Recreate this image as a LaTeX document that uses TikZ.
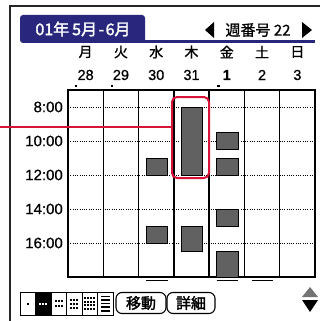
\documentclass[tikz,border=0pt]{standalone}
\usepackage{fontspec}
\setmainfont{Liberation Sans}
\newfontfamily\numf[FakeBold=0.7]{Liberation Sans}
\newfontfamily\jp{Noto Sans CJK JP}
\newfontfamily\jpm[FakeBold=1]{Noto Sans CJK JP}
\newfontfamily\jpb[FakeBold=2]{Noto Sans CJK JP}
\definecolor{tabblue}{RGB}{40,38,125}
\definecolor{hlred}{RGB}{215,20,55}
\newcommand\cw{35.286}
\newcommand\hy[1]{90+(#1-7)*17}
\newcommand\evbox[3]{\draw[eventbox] ({68+#1*\cw+7.5},{\hy{#2}}) rectangle ({68+#1*\cw+29},{\hy{#3}});}
\newcommand\ulbox[1]{\draw[line width=1.2pt] ({68+#1*\cw+7.5},280.5) -- ({68+#1*\cw+29},280.5);}
\begin{document}
\begin{tikzpicture}[x=1pt,y=-1pt,
  gridline/.style={line width=1.3pt,black},
  hourline/.style={line width=0.9pt,dash pattern=on 0.9pt off 1.4pt},
  eventbox/.style={draw=black,line width=1pt,fill=black!62},
  daylabel/.style={font=\jpm\fontsize{14}{14}\selectfont,inner sep=0},
  datelabel/.style={font=\numf\fontsize{14.5}{14.5}\selectfont,inner sep=0},
  timelabel/.style={font=\numf\fontsize{15}{15}\selectfont,anchor=east,inner sep=0},
  btn/.style={draw,line width=1.1pt,rounded corners=6pt,minimum height=21pt,inner sep=0,font=\jpb\fontsize{15}{15}\selectfont},
  selbox/.style={line width=1pt}]
\useasboundingbox (0,0) rectangle (320,321);
% frame
\draw[line width=1.3pt,black!85] (10,321) -- (10,6) -- (320,6);
% tab
\fill[tabblue,rounded corners=3pt] (20,43) -- (20,15) -- (145,15) -- (145,43) -- cycle;
\fill[tabblue] (140,40) rectangle (315,43);
\node[font=\jpb\fontsize{16}{16}\selectfont,text=white,inner sep=0] (tab) at (83,29) {01年\hspace{3pt}5月\hspace{1.5pt}-\hspace{1.5pt}6月};
% week header
\fill (214,22) -- (214,38) -- (205,30) -- cycle;
\node[font=\jpm\fontsize{15}{15}\selectfont,inner sep=0] (wk) at (258,30) {週番号 22};
\fill (302,22) -- (302,38) -- (312,30) -- cycle;
% day names and dates
\foreach \d [count=\i from 0] in {月,火,水,木,金,土,日}
  \node[daylabel] (d\i) at ({68+(\i+0.5)*\cw},52) {\d};
\foreach \t [count=\i from 0] in {28,29,30,31,\textbf{1},2,3}
  \node[datelabel] (n\i) at ({68+(\i+0.5)*\cw},75) {\t};
\fill (74.5,84.5) rectangle (77,87);
\fill (110.5,84.5) rectangle (113,87);
\fill (217,84.5) rectangle (219.5,87);
% grid
\foreach \h in {8,10,12,14,16}
  \draw[hourline] (68,{\hy{\h}}) -- (315,{\hy{\h}});
\foreach \i in {1,...,6}
  \draw[gridline] ({68+\i*\cw},90) -- ({68+\i*\cw},277);
\draw[gridline] (68,90) rectangle (315,277);
\foreach \h in {8,10,12,14,16}
  \node[timelabel] (t\h) at (63,{\hy{\h}}) {\h:00};
% events
\evbox{2}{11}{12}
\evbox{2}{15}{16}
\evbox{3}{8}{12}
\evbox{3}{15}{16.5}
\evbox{4}{9.5}{10.5}
\evbox{4}{11}{12}
\evbox{4}{14}{15}
\evbox{4}{16.5}{18}
\ulbox{2}
\ulbox{4}
\ulbox{5}
% highlight
\node[draw=hlred,line width=2pt,rounded corners=5pt,minimum width=37pt,minimum height=81pt,inner sep=0] (hl) at (190.5,137.5) {};
\coordinate (lstart) at (0,127);
\draw[hlred,line width=1.5pt] (lstart) -- (lstart -| hl.west);
% view selector
\fill (35.5,292) rectangle (51,315);
\foreach \i in {0,...,5}
  \draw[selbox] ({20+\i*15.5},292) rectangle ({20+(\i+1)*15.5},315);
\fill (26.75,302.5) rectangle (28.75,304.5);
\foreach \k in {-1,0,1}
  \fill[white] ({43.25+\k*3.2-1},302.5) rectangle ({43.25+\k*3.2+1},304.5);
\foreach \k in {-1,0,1} \foreach \r in {-1,1}
  \fill ({58.75+\k*3.2-1},{303.5+\r*2.5-1}) rectangle ({58.75+\k*3.2+1},{303.5+\r*2.5+1});
\foreach \k in {-1,0,1} \foreach \r in {-1,0,1}
  \fill ({74.25+\k*3.2-1},{303.5+\r*4-1}) rectangle ({74.25+\k*3.2+1},{303.5+\r*4+1});
\foreach \k in {-1.5,-0.5,0.5,1.5} \foreach \r in {-1.5,-0.5,0.5,1.5}
  \fill ({89.75+\k*3-0.9},{303.5+\r*3.6-0.9}) rectangle ({89.75+\k*3+0.9},{303.5+\r*3.6+0.9});
\foreach \r in {-2,...,2}
  \fill (100.5,{303.5+\r*3.6-0.8}) rectangle (110,{303.5+\r*3.6+0.8});
% buttons
\node[btn,minimum width=50pt] (move) at (141,303) {移動};
\node[btn,minimum width=48pt] (detail) at (191,303) {詳細};
% scroll arrows
\fill[black!55] (302,297) -- (318,297) -- (310,287) -- cycle;
\fill (302,300) -- (318,300) -- (310,312) -- cycle;
\end{tikzpicture}
\end{document}
